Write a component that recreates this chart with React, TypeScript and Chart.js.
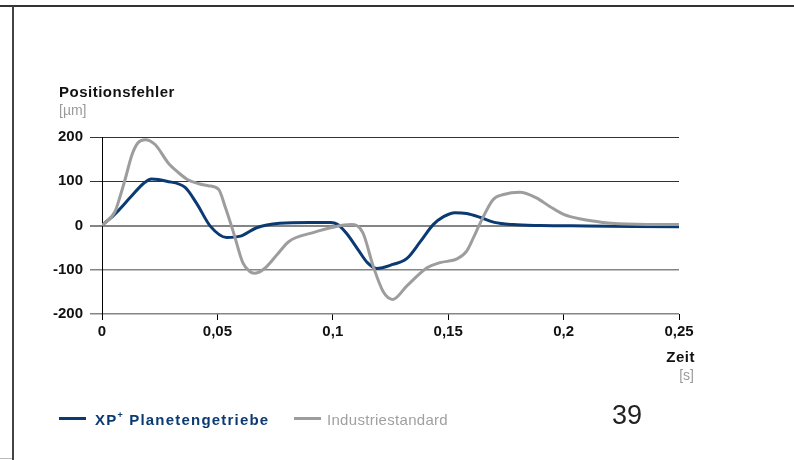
import React, { useEffect, useRef } from 'react';
import { Chart, registerables } from 'chart.js';

Chart.register(...registerables);

// Zeit [s]
const xpTime = [0, 0.006, 0.012, 0.018, 0.0215, 0.028, 0.036, 0.041, 0.047, 0.054, 0.06, 0.067, 0.077, 0.09, 0.099, 0.102, 0.106, 0.111, 0.115, 0.119, 0.126, 0.132, 0.138, 0.1435, 0.148, 0.153, 0.158, 0.164, 0.17, 0.178, 0.19, 0.21, 0.25];
// Positionsfehler [µm]
const xpValues = [0, 28, 62, 95, 105, 100, 86, 50, -2, -27, -24, -5, 5, 7, 7, 3, -18, -55, -84, -97, -88, -75, -36, 2, 20, 29, 27, 18, 7, 2, 0, -1, -3];

const stdTime = [0, 0.0056, 0.0078, 0.01, 0.013, 0.0156, 0.0186, 0.023, 0.0286, 0.033, 0.037, 0.0416, 0.046, 0.0505, 0.0535, 0.057, 0.061, 0.064, 0.066, 0.07, 0.076, 0.081, 0.0915, 0.1, 0.108, 0.113, 0.1175, 0.122, 0.126, 0.132, 0.141, 0.1465, 0.154, 0.158, 0.161, 0.164, 0.1695, 0.174, 0.181, 0.188, 0.194, 0.2, 0.208, 0.217, 0.224, 0.25];
const stdValues = [0, 31, 65, 104, 160, 187, 194, 183, 142, 120, 104, 95, 90, 82, 40, -16, -84, -104, -108, -99, -65, -36, -16, -4, 2, -16, -92, -151, -167, -137, -95, -84, -75, -58, -27, 7, 59, 70, 75, 63, 43, 25, 14, 7, 4, 2];

const xTickValues = [0, 0.05, 0.1, 0.15, 0.2, 0.25];
const xTickLabels = ['0', '0,05', '0,1', '0,15', '0,2', '0,25'];
const yTickValues = [-200, -100, 0, 100, 200];
const yTickLabels = ['-200', '-100', '0', '100', '200'];

const FONT = '"Liberation Sans", Arial, Helvetica, sans-serif';
const BLUE = '#0b3a73';
const GRAY = '#9d9d9d';

export default function App() {
  const ref = useRef<HTMLCanvasElement>(null);

  useEffect(() => {
    Chart.defaults.font.family = FONT;
    const chart = new Chart(ref.current as HTMLCanvasElement, {
      type: 'line',
      data: {
        datasets: [
          {
            label: 'XP+ Planetengetriebe',
            data: xpTime.map((t, i) => ({ x: t, y: xpValues[i] })),
            borderColor: BLUE,
            borderWidth: 3,
            pointRadius: 0,
            cubicInterpolationMode: 'monotone',
            fill: false,
            order: 1,
          },
          {
            label: 'Industriestandard',
            data: stdTime.map((t, i) => ({ x: t, y: stdValues[i] })),
            borderColor: GRAY,
            borderWidth: 3,
            pointRadius: 0,
            cubicInterpolationMode: 'monotone',
            fill: false,
            order: 0,
          },
        ],
      },
      options: {
        animation: false,
        responsive: false,
        maintainAspectRatio: false,
        layout: { padding: { top: 137, right: 115, left: 0, bottom: 0 } },
        plugins: { legend: { display: false }, tooltip: { enabled: false } },
        scales: {
          x: {
            type: 'linear',
            min: 0,
            max: 0.25,
            afterBuildTicks: (s: any) => {
              s.ticks = xTickValues.map((v) => ({ value: v }));
            },
            afterFit: (s: any) => {
              s.height = 146;
            },
            ticks: {
              autoSkip: false,
              maxRotation: 0,
              padding: 3,
              color: '#111',
              font: { family: FONT, size: 15, weight: 'bold' },
              callback: (_v: any, i: number) => xTickLabels[i],
            },
            grid: { drawOnChartArea: false, drawTicks: true, tickLength: 6, color: '#000', lineWidth: 1 },
            border: { display: false },
          },
          y: {
            type: 'linear',
            min: -200,
            max: 200,
            afterBuildTicks: (s: any) => {
              s.ticks = yTickValues.map((v) => ({ value: v }));
            },
            afterFit: (s: any) => {
              s.width = 102;
            },
            ticks: {
              padding: 7,
              color: '#111',
              font: { family: FONT, size: 15, weight: 'bold' },
              callback: (_v: any, i: number) => yTickLabels[i],
            },
            grid: {
              drawTicks: true,
              tickLength: 12,
              color: (ctx: any) => (ctx.tick && ctx.tick.value > 0 ? '#333' : '#858585'),
              lineWidth: (ctx: any) => (ctx.tick && ctx.tick.value === 0 ? 2 : ctx.tick && ctx.tick.value > 0 ? 1 : 1.5),
            },
            border: { display: true, color: '#000', width: 1 },
          },
        },
      },
    } as any);
    return () => chart.destroy();
  }, []);

  const abs = (s: React.CSSProperties): React.CSSProperties => ({
    position: 'absolute',
    fontFamily: FONT,
    lineHeight: 1,
    whiteSpace: 'nowrap',
    margin: 0,
    ...s,
  });

  return (
    <div style={{ position: 'absolute', left: 0, top: 0, width: 794, height: 460, background: '#fff', overflow: 'hidden' }}>
      <canvas ref={ref} width={794} height={460} style={{ position: 'absolute', left: 0, top: 0, width: 794, height: 460 }} />
      <div style={{ position: 'absolute', left: 0, top: 5, width: 794, height: 2, background: '#333' }} />
      <div style={{ position: 'absolute', left: 12, top: 6, width: 2, height: 454, background: '#444' }} />
      <div style={{ position: 'absolute', left: 0, top: 458, width: 12, height: 1, background: '#bbb' }} />

      <div style={abs({ left: 59, top: 84, fontSize: 15, fontWeight: 'bold', color: '#111', letterSpacing: 0.5 })}>Positionsfehler</div>
      <div style={abs({ left: 59, top: 103, fontSize: 14, color: '#9a9a9a' })}>[µm]</div>

      <div style={abs({ right: 99, top: 349, fontSize: 15, fontWeight: 'bold', color: '#111', letterSpacing: 0.5 })}>Zeit</div>
      <div style={abs({ right: 100, top: 368, fontSize: 14, color: '#9a9a9a' })}>[s]</div>

      <div style={{ position: 'absolute', left: 59, top: 417, width: 27, height: 3, background: BLUE }} />
      <div style={abs({ left: 95, top: 412, fontSize: 15, fontWeight: 'bold', color: BLUE, letterSpacing: 1.2 })}>
        XP<sup style={{ fontSize: 9, verticalAlign: 'top', position: 'relative', top: -1 }}>+</sup> Planetengetriebe
      </div>
      <div style={{ position: 'absolute', left: 294, top: 417, width: 27, height: 3, background: GRAY }} />
      <div style={abs({ left: 327, top: 412, fontSize: 15, color: '#a0a0a0', letterSpacing: 0.3 })}>Industriestandard</div>

      <div style={abs({ left: 612, top: 402, fontSize: 27, fontWeight: 300, color: '#222' })}>39</div>
    </div>
  );
}
